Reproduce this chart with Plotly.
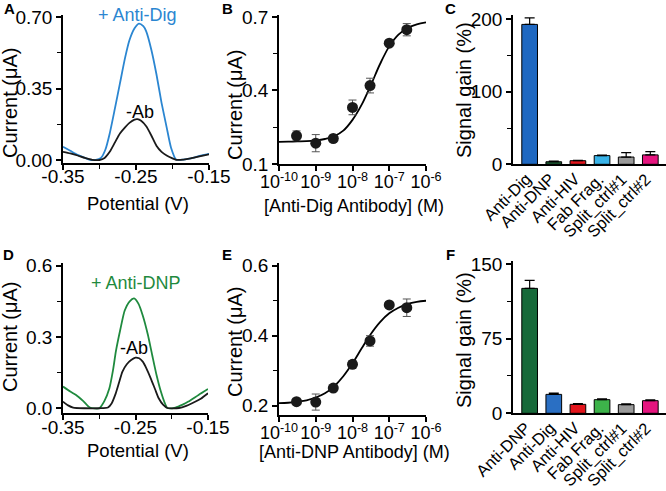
import plotly.graph_objects as go

# ---------------- data ----------------
# Panel A: square-wave voltammograms (anti-Dig)
a_pot_blue = [-0.350, -0.340, -0.330, -0.320, -0.313, -0.305, -0.298, -0.292, -0.286, -0.279, -0.272, -0.265,
              -0.259, -0.252, -0.246, -0.240, -0.236, -0.229, -0.222, -0.215, -0.208, -0.202, -0.195, -0.185,
              -0.175, -0.163, -0.150]
a_cur_blue = [0.065, 0.045, 0.025, 0.010, 0.001, 0.000, 0.010, 0.050, 0.130, 0.250, 0.375, 0.500,
              0.586, 0.645, 0.668, 0.655, 0.630, 0.540, 0.420, 0.280, 0.160, 0.060, 0.002, 0.002,
              0.008, 0.020, 0.030]
a_pot_black = [-0.350, -0.340, -0.330, -0.320, -0.310, -0.300, -0.293, -0.286, -0.279, -0.272, -0.265, -0.259,
               -0.252, -0.248, -0.243, -0.236, -0.229, -0.222, -0.215, -0.208, -0.200, -0.195, -0.185, -0.175,
               -0.163, -0.150]
a_cur_black = [0.040, 0.032, 0.022, 0.010, 0.001, 0.000, 0.010, 0.040, 0.085, 0.130, 0.160, 0.182,
               0.198, 0.200, 0.192, 0.165, 0.120, 0.070, 0.040, 0.022, 0.008, 0.001, 0.002, 0.008,
               0.018, 0.028]

# Panel D: square-wave voltammograms (anti-DNP)
d_pot_green = [-0.350, -0.340, -0.332, -0.322, -0.313, -0.300, -0.293, -0.286, -0.281, -0.277, -0.271, -0.265,
               -0.258, -0.252, -0.246, -0.240, -0.233, -0.227, -0.221, -0.215, -0.210, -0.206, -0.195, -0.185,
               -0.177, -0.163, -0.150]
d_cur_green = [0.091, 0.070, 0.056, 0.030, 0.003, 0.000, 0.030, 0.084, 0.160, 0.240, 0.330, 0.410,
               0.450, 0.462, 0.440, 0.390, 0.310, 0.224, 0.140, 0.070, 0.025, 0.001, 0.003, 0.015,
               0.028, 0.056, 0.081]
d_pot_black = [-0.350, -0.343, -0.336, -0.320, -0.300, -0.288, -0.283, -0.278, -0.273, -0.268, -0.262, -0.256,
               -0.250, -0.245, -0.240, -0.235, -0.229, -0.223, -0.218, -0.212, -0.206, -0.190, -0.180, -0.172,
               -0.160, -0.150]
d_cur_black = [0.028, 0.012, 0.003, 0.000, 0.000, 0.003, 0.020, 0.056, 0.105, 0.154, 0.185, 0.203,
               0.213, 0.210, 0.196, 0.168, 0.126, 0.080, 0.042, 0.015, 0.001, 0.001, 0.010, 0.021,
               0.040, 0.063]

# Panels B / E: titrations
conc = [3e-10, 1e-9, 3e-9, 1e-8, 3e-8, 1e-7, 3e-7]
b_current = [0.215, 0.185, 0.204, 0.331, 0.420, 0.593, 0.648]
b_err = [0.020, 0.035, 0.010, 0.030, 0.030, 0.010, 0.025]
e_current = [0.211, 0.210, 0.250, 0.318, 0.385, 0.488, 0.480]
e_err = [0.006, 0.023, 0.006, 0.010, 0.015, 0.006, 0.025]

fit_conc = [1e-10, 1.78e-10, 3.16e-10, 5.62e-10, 1e-9, 1.78e-9, 3.16e-9, 5.62e-9, 1e-8, 1.78e-8, 3.16e-8,
            5.62e-8, 1e-7, 1.78e-7, 3.16e-7, 5.62e-7, 1e-6]
b_fit = [0.190, 0.191, 0.192, 0.193, 0.196, 0.202, 0.213, 0.236, 0.280, 0.342, 0.422, 0.508, 0.580,
         0.628, 0.655, 0.670, 0.678]
e_fit = [0.207, 0.208, 0.211, 0.215, 0.223, 0.235, 0.255, 0.284, 0.321, 0.364, 0.405, 0.439, 0.464,
         0.480, 0.491, 0.497, 0.500]

# Panels C / F: specificity
c_labels = ["Anti-Dig", "Anti-DNP", "Anti-HIV", "Fab Frag.", "Split_ctrl#1", "Split_ctrl#2"]
c_gain = [193, 3.5, 5, 12, 10, 13]
c_err = [9, 1, 0.6, 0.6, 6, 4.5]
c_colors = ["#1f68c1", "#1c5e34", "#e3151c", "#39b3e8", "#9a9a9a", "#e5157f"]

f_labels = ["Anti-DNP", "Anti-Dig", "Anti-HIV", "Fab Frag.", "Split_ctrl#1", "Split_ctrl#2"]
f_gain = [125.5, 19, 9, 13.7, 8.7, 12.7]
f_err = [8, 1.3, 0.7, 0.8, 0.8, 0.8]
f_colors = ["#17693a", "#2a6fc3", "#e3151c", "#3db34a", "#9a9a9a", "#e5157f"]

# ---------------- figure ----------------
W, H = 666, 491
FONT = "Liberation Sans, Arial, sans-serif"
TICKF = dict(family=FONT, size=19, color="black")


def px(v):
    return v / W


def py(v):
    return 1 - v / H


fig = go.Figure()

line_w = 1.8
# A
fig.add_trace(go.Scatter(x=a_pot_blue, y=a_cur_blue, mode="lines",
                         line=dict(color="#2b86d1", width=line_w, shape="spline", smoothing=0.6), xaxis="x", yaxis="y"))
fig.add_trace(go.Scatter(x=a_pot_black, y=a_cur_black, mode="lines",
                         line=dict(color="#1a1a1a", width=line_w, shape="spline", smoothing=0.6), xaxis="x", yaxis="y"))
# D
fig.add_trace(go.Scatter(x=d_pot_green, y=d_cur_green, mode="lines",
                         line=dict(color="#1f8a3e", width=line_w, shape="spline", smoothing=0.6), xaxis="x4", yaxis="y4"))
fig.add_trace(go.Scatter(x=d_pot_black, y=d_cur_black, mode="lines",
                         line=dict(color="#1a1a1a", width=line_w, shape="spline", smoothing=0.6), xaxis="x4", yaxis="y4"))

# B
fig.add_trace(go.Scatter(x=fit_conc, y=b_fit, mode="lines", line=dict(color="black", width=1.8, shape="spline"),
                         xaxis="x2", yaxis="y2"))
fig.add_trace(go.Scatter(x=conc, y=b_current, mode="markers",
                         marker=dict(color="#1a1a1a", size=11),
                         error_y=dict(type="data", array=b_err, color="#555555", thickness=1, width=4),
                         xaxis="x2", yaxis="y2"))
# E
fig.add_trace(go.Scatter(x=fit_conc, y=e_fit, mode="lines", line=dict(color="black", width=1.8, shape="spline"),
                         xaxis="x5", yaxis="y5"))
fig.add_trace(go.Scatter(x=conc, y=e_current, mode="markers",
                         marker=dict(color="#1a1a1a", size=11),
                         error_y=dict(type="data", array=e_err, color="#555555", thickness=1, width=4),
                         xaxis="x5", yaxis="y5"))

# C
fig.add_trace(go.Bar(x=c_labels, y=c_gain, width=0.65,
                     marker=dict(color=c_colors, line=dict(color="black", width=1)),
                     error_y=dict(type="data", symmetric=False, array=c_err, arrayminus=[0] * 6,
                                  color="black", thickness=1.2, width=5),
                     xaxis="x3", yaxis="y3"))
# F
fig.add_trace(go.Bar(x=f_labels, y=f_gain, width=0.65,
                     marker=dict(color=f_colors, line=dict(color="black", width=1)),
                     error_y=dict(type="data", symmetric=False, array=f_err, arrayminus=[0] * 6,
                                  color="black", thickness=1.2, width=5),
                     xaxis="x6", yaxis="y6"))


def base_axis(**kw):
    d = dict(showline=True, linecolor="black", linewidth=1.5, ticks="outside", ticklen=5,
             tickwidth=1.5, tickcolor="black", showgrid=False, zeroline=False,
             tickfont=TICKF, automargin=False, fixedrange=True)
    d.update(kw)
    return d


def minor(vals):
    return dict(tickmode="array", tickvals=vals, ticks="outside", ticklen=4, tickwidth=1.2,
                tickcolor="black", showgrid=False)


pot_ticks = [-0.35, -0.25, -0.15]
pot_text = ["-0.35", "-0.25", "-0.15"]
pot_minor = [-0.30, -0.20]
log_ticks = [1e-10, 1e-9, 1e-8, 1e-7, 1e-6]
log_text = ["10<sup>-10</sup>", "10<sup>-9</sup>", "10<sup>-8</sup>", "10<sup>-7</sup>", "10<sup>-6</sup>"]
LOGF = dict(family=FONT, size=18, color="black")

layout = dict(
    width=W, height=H, margin=dict(l=0, r=0, t=0, b=0),
    paper_bgcolor="white", plot_bgcolor="rgba(0,0,0,0)", showlegend=False,
    template="none", bargap=0.35,
    font=dict(family=FONT, color="black"),
    xaxis=base_axis(domain=[px(63), px(209)], range=[-0.35, -0.15], anchor="y", tickangle=0,
                    ticklabelstandoff=-10,
                    tickmode="array", tickvals=pot_ticks, ticktext=pot_text, minor=minor(pot_minor)),
    yaxis=base_axis(domain=[py(163), py(15)], range=[-0.0147, 0.71], anchor="x",
                    tickmode="array", tickvals=[0, 0.35, 0.70], ticktext=["0.00", "0.35", "0.70"],
                    minor=minor([0.175, 0.525])),
    xaxis2=base_axis(domain=[px(279), px(426)], type="log", range=[-10, -6], anchor="y2", tickangle=0,
                     ticklabelstandoff=-4, tickfont=LOGF,
                     tickmode="array", tickvals=log_ticks, ticktext=log_text),
    yaxis2=base_axis(domain=[py(164), py(15)], range=[0.1, 0.708], anchor="x2",
                     tickmode="array", tickvals=[0.1, 0.4, 0.7], ticktext=["0.1", "0.4", "0.7"],
                     minor=minor([0.25, 0.55])),
    xaxis3=base_axis(domain=[px(513), 1.0], range=[-0.69, 5.65], anchor="y3", ticks="",
                     showticklabels=False),
    yaxis3=base_axis(domain=[py(164.3), py(15)], range=[0, 206], anchor="x3",
                     tickmode="array", tickvals=[0, 100, 200], ticktext=["0", "100", "200"],
                     minor=minor([50, 150])),
    xaxis4=base_axis(domain=[px(63), px(208)], range=[-0.35, -0.15], anchor="y4", tickangle=0,
                     ticklabelstandoff=-9,
                     tickmode="array", tickvals=pot_ticks, ticktext=pot_text, minor=minor(pot_minor)),
    yaxis4=base_axis(domain=[py(413), py(263)], range=[-0.02, 0.611], anchor="x4",
                     tickmode="array", tickvals=[0, 0.3, 0.6], ticktext=["0.0", "0.3", "0.6"],
                     minor=minor([0.15, 0.45])),
    xaxis5=base_axis(domain=[px(279), px(426)], type="log", range=[-10, -6], anchor="y5", tickangle=0,
                     ticklabelstandoff=-4, tickfont=LOGF,
                     tickmode="array", tickvals=log_ticks, ticktext=log_text),
    yaxis5=base_axis(domain=[py(415), py(263)], range=[0.173, 0.608], anchor="x5",
                     tickmode="array", tickvals=[0.2, 0.4, 0.6], ticktext=["0.2", "0.4", "0.6"],
                     minor=minor([0.3, 0.5])),
    xaxis6=base_axis(domain=[px(513), 1.0], range=[-0.69, 5.65], anchor="y6", ticks="",
                     showticklabels=False),
    yaxis6=base_axis(domain=[py(413.3), py(261)], range=[0, 153], anchor="x6",
                     tickmode="array", tickvals=[0, 75, 150], ticktext=["0", "75", "150"],
                     minor=minor([37.5, 112.5])),
)
fig.update_layout(**layout)

ann = []


def add_text(text, x, y, size=18, color="black", angle=0, bold=False):
    ann.append(dict(text=("<b>%s</b>" % text) if bold else text, x=px(x), y=py(y), xref="paper", yref="paper",
                    showarrow=False, xanchor="center", yanchor="middle", textangle=angle,
                    font=dict(family=FONT, size=size, color=color)))


# panel letters
for letter, (lx, ly) in {"A": (9, 9), "B": (227, 9), "C": (450, 9),
                         "D": (8, 254), "E": (227, 254), "F": (450, 254)}.items():
    add_text(letter, lx, ly, size=15, bold=True)

# y titles
add_text("Current (μA)", 10, 103, size=20, angle=-90)
add_text("Current (μA)", 235, 105, size=20, angle=-90)
add_text("Signal gain (%)", 464, 90, size=20, angle=-90)
add_text("Current (μA)", 10, 337, size=20, angle=-90)
add_text("Current (μA)", 235, 342, size=20, angle=-90)
add_text("Signal gain (%)", 464, 340, size=20, angle=-90)

# x titles
add_text("Potential (V)", 138, 203, size=18.5)
add_text("[Anti-Dig Antibody] (M)", 354, 206, size=18)
add_text("Potential (V)", 138, 450, size=18.5)
add_text("[Anti-DNP Antibody] (M)", 354, 452, size=18)

# in-plot labels
add_text("+ Anti-Dig", 137, 15, size=18, color="#2b86d1")
add_text("-Ab", 140, 112, size=18)
add_text("+ Anti-DNP", 136, 283, size=18, color="#1f8a3e")
add_text("-Ab", 134, 348, size=18)

# rotated category labels for the bar panels (positioned on the category axes)
for labels, xref, axis_y in ((c_labels, "x3", 164.3), (f_labels, "x6", 413.3)):
    for lab in labels:
        ann.append(dict(text=lab, x=lab, xref=xref, y=py(axis_y + 4), yref="paper",
                        xshift=6, showarrow=False, xanchor="right", yanchor="top", textangle=-45,
                        borderpad=0, font=dict(family=FONT, size=16.5, color="black")))

fig.update_layout(annotations=ann)
fig.write_html("out.html", config={"displayModeBar": False},
               post_script="document.body.style.margin='0px';document.body.style.overflow='hidden';")
